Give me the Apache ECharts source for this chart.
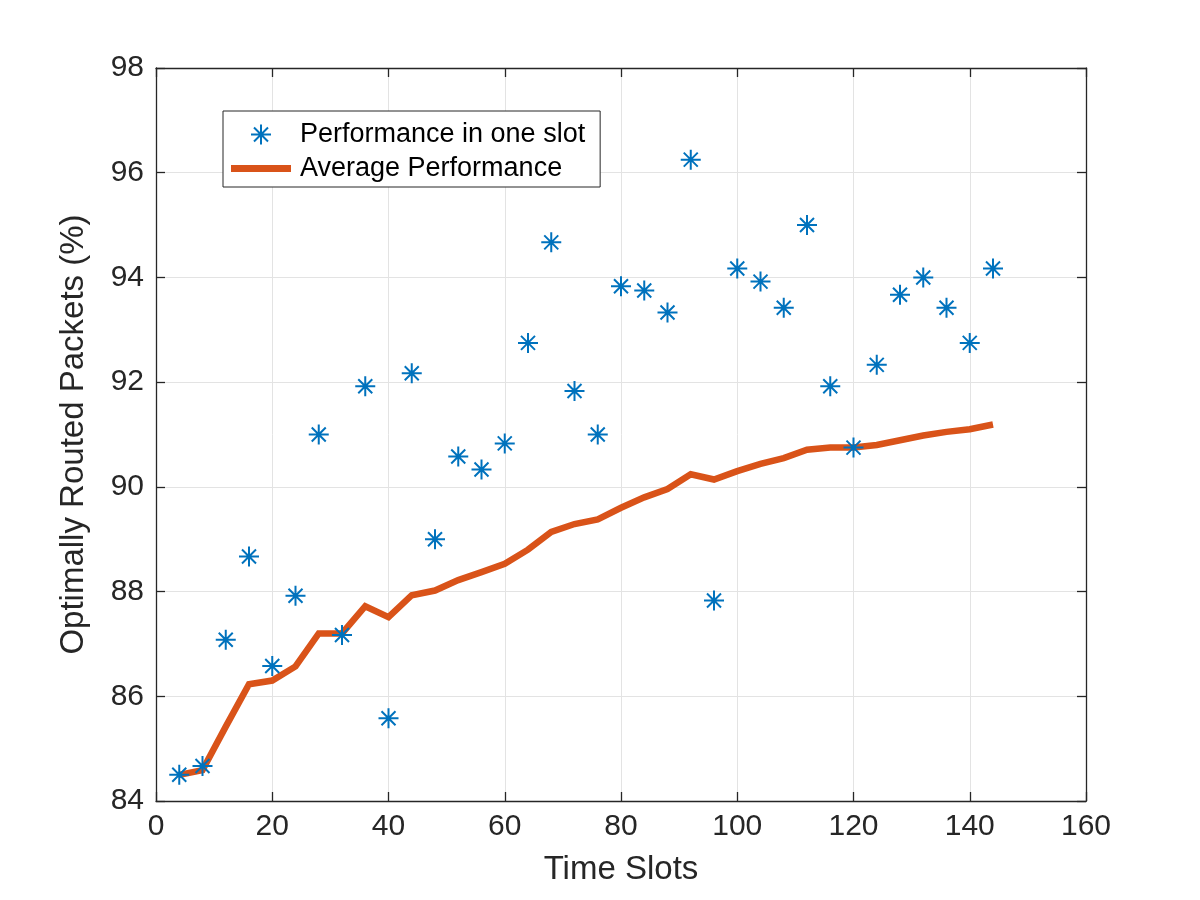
<!DOCTYPE html>
<html>
<head>
<meta charset="utf-8">
<script src="https://cdn.jsdelivr.net/npm/echarts@6/dist/echarts.min.js"></script>
<style>
html,body{margin:0;padding:0;background:#fff;}
#chart{width:1200px;height:900px;}
</style>
</head>
<body>
<div id="chart"></div>
<script>
// Data
const timeSlots = [4,8,12,16,20,24,28,32,36,40,44,48,52,56,60,64,68,72,76,80,84,88,92,96,100,104,108,112,116,120,124,128,132,136,140,144];
const slotPerformance = [84.50,84.67,87.08,88.67,86.58,87.92,91.00,87.17,91.92,85.58,92.17,89.00,90.58,90.33,90.83,92.75,94.67,91.83,91.00,93.83,93.75,93.33,96.25,87.83,94.17,93.92,93.42,95.00,91.92,90.75,92.33,93.67,94.00,93.42,92.75,94.17];
const averagePerformance = [84.50,84.59,85.42,86.23,86.30,86.57,87.20,87.20,87.72,87.51,87.93,88.02,88.22,88.37,88.53,88.80,89.14,89.29,89.38,89.60,89.80,89.96,90.24,90.14,90.30,90.44,90.55,90.71,90.75,90.75,90.80,90.89,90.98,91.05,91.10,91.19];
const xTicks = {min:0, max:160, interval:20};
const yTicks = {min:84, max:98, interval:2};
const seriesNames = ['Performance in one slot','Average Performance'];
const axisNames = {x:'Time Slots', y:'Optimally Routed Packets (%)'};

const FONT = '"Liberation Sans", Arial, Helvetica, sans-serif';
const AX = '#262626';
const starPath = 'path://M10,0L10,20M0,10L20,10M3,3L17,17M3,17L17,3';
const barPath = 'path://M0,0H60V7H0Z';

const chart = echarts.init(document.getElementById('chart'), null, {renderer:'canvas'});
chart.setOption({
  backgroundColor:'#ffffff',
  animation:false,
  textStyle:{fontFamily:FONT},
  grid:{left:156,right:114,top:68,bottom:99,containLabel:false},
  legend:{
    orient:'vertical',
    left:223, top:111,
    padding:[10,15,5,8],
    backgroundColor:'#ffffff',
    borderColor:AX, borderWidth:1,
    itemWidth:60, itemHeight:20, itemGap:7,
    symbolKeepAspect:true,
    textStyle:{fontFamily:FONT,fontSize:27,color:'#000',padding:[0,0,0,4]},
    data:[
      {name:seriesNames[0]},
      {name:seriesNames[1], icon:barPath, itemStyle:{color:'#D95319',borderWidth:0}}
    ]
  },
  xAxis:[{
    type:'value', min:xTicks.min, max:xTicks.max, interval:xTicks.interval,
    name:axisNames.x, nameLocation:'middle', nameGap:52,
    nameTextStyle:{fontFamily:FONT,fontSize:33,color:AX},
    axisLine:{show:true,onZero:false,lineStyle:{color:AX,width:1.3}},
    axisTick:{show:true,inside:true,length:9,lineStyle:{color:AX,width:1.3}},
    axisLabel:{fontFamily:FONT,fontSize:30,color:AX,margin:11},
    splitLine:{show:true,lineStyle:{color:'#e3e3e3',width:1}}
  },{
    type:'value', position:'top', min:xTicks.min, max:xTicks.max, interval:xTicks.interval,
    axisLine:{show:true,onZero:false,lineStyle:{color:AX,width:1.3}},
    axisTick:{show:true,inside:true,length:9,lineStyle:{color:AX,width:1.3}},
    axisLabel:{show:false}, splitLine:{show:false}
  }],
  yAxis:[{
    type:'value', min:yTicks.min, max:yTicks.max, interval:yTicks.interval,
    name:axisNames.y, nameLocation:'middle', nameGap:66, nameRotate:90,
    nameTextStyle:{fontFamily:FONT,fontSize:33,color:AX},
    axisLine:{show:true,onZero:false,lineStyle:{color:AX,width:1.3}},
    axisTick:{show:true,inside:true,length:9,lineStyle:{color:AX,width:1.3}},
    axisLabel:{fontFamily:FONT,fontSize:30,color:AX,margin:12},
    splitLine:{show:true,lineStyle:{color:'#e3e3e3',width:1}}
  },{
    type:'value', position:'right', min:yTicks.min, max:yTicks.max, interval:yTicks.interval,
    axisLine:{show:true,onZero:false,lineStyle:{color:AX,width:1.3}},
    axisTick:{show:true,inside:true,length:9,lineStyle:{color:AX,width:1.3}},
    axisLabel:{show:false}, splitLine:{show:false}
  }],
  series:[{
    name:seriesNames[0], type:'scatter',
    data:timeSlots.map((t,i)=>[t,slotPerformance[i]]),
    symbol:starPath, symbolSize:20, symbolKeepAspect:true,
    itemStyle:{color:'#0072BD',borderColor:'#0072BD',borderWidth:2,opacity:1},
    z:3
  },{
    name:seriesNames[1], type:'line',
    data:timeSlots.map((t,i)=>[t,averagePerformance[i]]),
    symbol:'none', showSymbol:false,
    lineStyle:{color:'#D95319',width:6.5,join:'miter'},
    itemStyle:{color:'#D95319'},
    z:2
  }]
});
</script>
</body>
</html>
